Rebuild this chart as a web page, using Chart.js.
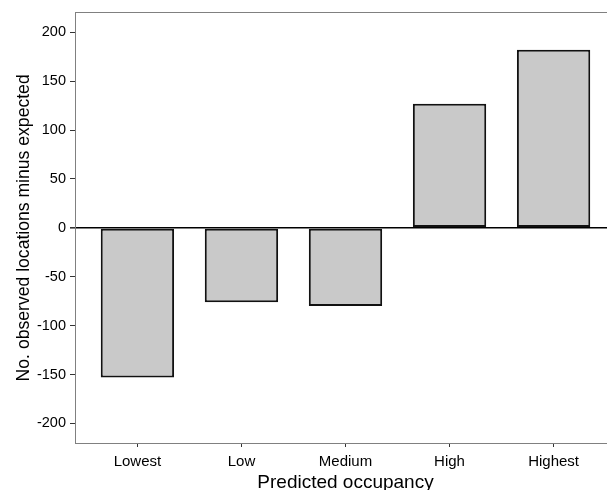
<!DOCTYPE html>
<html><head><meta charset="utf-8">
<script src="https://cdn.jsdelivr.net/npm/chart.js@4"></script>
<style>html,body{margin:0;padding:0;overflow:hidden;background:#fff;width:607px;height:490px}canvas{display:block}</style>
</head><body>
<canvas id="c" width="620" height="500" style="width:620px;height:500px"></canvas>
<script>
const categories = ['Lowest', 'Low', 'Medium', 'High', 'Highest'];
const values = [-153, -76, -80, 127, 182];
const yTicks = [-200, -150, -100, -50, 0, 50, 100, 150, 200];
const xTitle = 'Predicted occupancy';
const yTitle = 'No. observed locations minus expected';

const FONT = '"Liberation Sans", Arial, sans-serif';
const points = categories.map((c, i) => ({ x: i + 1, y: values[i] }));

new Chart(document.getElementById('c'), {
  type: 'bar',
  data: {
    datasets: [{
      data: points,
      backgroundColor: '#c9c9c9',
      borderColor: '#111',
      borderWidth: 2,
      borderSkipped: false,
      barPercentage: 0.705,
      categoryPercentage: 1.0
    }]
  },
  options: {
    responsive: false,
    animation: false,
    devicePixelRatio: 1,
    layout: { padding: { top: 12, right: 4, left: 0, bottom: 0 } },
    plugins: { legend: { display: false }, tooltip: { enabled: false } },
    scales: {
      x: {
        type: 'linear',
        position: 'bottom',
        offset: false,
        min: 0.4, max: 5.6,
        afterBuildTicks: (axis) => { axis.ticks = categories.map((c, i) => ({ value: i + 1 })); },
        afterFit: (axis) => { axis.height = 57; },
        ticks: {
          callback: (v) => categories[Math.round(v) - 1],
          color: '#000',
          font: { family: FONT, size: 15 },
          padding: 6,
          maxRotation: 0, autoSkip: false
        },
        grid: { offset: false, drawOnChartArea: false, drawTicks: true, tickLength: 4, tickColor: '#333', lineWidth: 1 },
        border: { color: '#808080', width: 1 },
        title: {
          display: true, text: xTitle, color: '#000',
          font: { family: FONT, size: 19 },
          padding: { top: 0, bottom: 6 }
        }
      },
      x2: {
        type: 'linear',
        position: 'top',
        offset: false,
        min: 0.4, max: 5.6,
        afterFit: (axis) => { axis.height = 0; },
        ticks: { display: false },
        grid: { display: false, drawTicks: false, offset: false },
        border: { display: true, color: '#808080', width: 1 }
      },
      y: {
        min: -220, max: 220,
        afterBuildTicks: (axis) => { axis.ticks = yTicks.map(v => ({ value: v })); },
        afterFit: (axis) => { axis.width = 75; },
        ticks: {
          color: '#000',
          font: { family: FONT, size: 14.5 },
          padding: 4
        },
        grid: {
          drawOnChartArea: true,
          drawTicks: true,
          tickLength: 5,
          tickColor: '#333',
          color: (ctx) => (ctx.tick && ctx.tick.value === 0) ? '#000' : 'rgba(0,0,0,0)',
          lineWidth: (ctx) => (ctx.tick && ctx.tick.value === 0) ? 1.6 : 1
        },
        border: { color: '#808080', width: 1 },
        title: {
          display: true, text: yTitle, color: '#000',
          font: { family: FONT, size: 17.6 },
          padding: { top: 14, bottom: 0 }
        }
      }
    }
  }
});
</script>
</body></html>
